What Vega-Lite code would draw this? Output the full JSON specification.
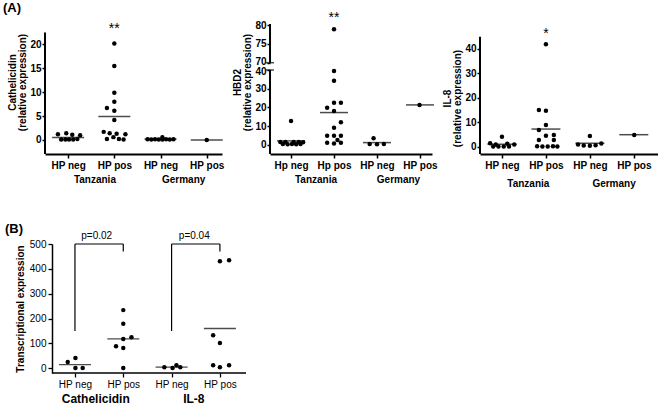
{
  "$schema": "https://vega.github.io/schema/vega-lite/v6.json",
  "padding": {"left": 3, "top": 2, "right": 0, "bottom": 0},
  "config": {
    "font": "Liberation Sans",
    "view": {"stroke": null},
    "axis": {"grid": false, "domainColor": "black", "tickColor": "black", "labelColor": "black", "titleColor": "black", "labelOverlap": false, "tickCount": 30},
    "title": {"color": "black"}
  },
  "datasets": {
    "a1": [
      {"x": -0.22, "y": 1.2}, {"x": -0.04, "y": 1.4}, {"x": 0.09, "y": 1.1}, {"x": 0.26, "y": 1.0},
      {"x": -0.15, "y": 0.1}, {"x": -0.06, "y": 0.1}, {"x": 0.02, "y": 0.1}, {"x": 0.11, "y": 0.1}, {"x": 0.2, "y": 0.2},
      {"x": 1, "y": 20.2}, {"x": 1, "y": 15.5}, {"x": 1, "y": 9.9}, {"x": 1, "y": 8.0}, {"x": 0.84, "y": 6.7}, {"x": 1, "y": 6.1}, {"x": 1, "y": 4.2},
      {"x": 0.77, "y": 1.7}, {"x": 0.9, "y": 1.4}, {"x": 1.05, "y": 1.3}, {"x": 1.24, "y": 1.2}, {"x": 0.84, "y": 0.2}, {"x": 0.98, "y": 0.6}, {"x": 1.1, "y": 0.2}, {"x": 1.2, "y": 0.1},
      {"x": 1.72, "y": 0.15}, {"x": 1.8, "y": 0.1}, {"x": 1.88, "y": 0.15}, {"x": 1.96, "y": 0.1}, {"x": 2.04, "y": 0.6}, {"x": 2.04, "y": 0.1}, {"x": 2.12, "y": 0.15}, {"x": 2.2, "y": 0.1}, {"x": 2.28, "y": 0.15},
      {"x": 3, "y": 0}
    ],
    "a1m": [{"x": 0, "y": 0.5}, {"x": 1, "y": 4.9}, {"x": 2, "y": 0.2}, {"x": 3, "y": 0}],
    "a1ax": [{"y": -2.93, "y2": 22.5}],
    "a1sig": [{"x": 1, "y": 23.3, "t": "**"}],
    "a1grp": [{"x": 0.58, "t": "Tanzania"}, {"x": 2.5, "t": "Germany"}],
    "a2": [
      {"x": 0, "y": 12.7},
      {"x": -0.25, "y": 1.4}, {"x": -0.13, "y": 1.5}, {"x": 0.06, "y": 1.4}, {"x": 0.18, "y": 1.5}, {"x": 0.28, "y": 1.3},
      {"x": -0.19, "y": 0.3}, {"x": -0.08, "y": 0.2}, {"x": 0.02, "y": 0.3}, {"x": 0.12, "y": 0.2}, {"x": 0.22, "y": 0.3},
      {"x": 1, "y": 78.9}, {"x": 1, "y": 39.5}, {"x": 1, "y": 34.3}, {"x": 1, "y": 22.5}, {"x": 1.16, "y": 22.5}, {"x": 0.84, "y": 19.8}, {"x": 1, "y": 18.0}, {"x": 1.16, "y": 12.0}, {"x": 1, "y": 9.1},
      {"x": 0.84, "y": 4.8}, {"x": 1, "y": 4.8}, {"x": 1.16, "y": 4.8}, {"x": 1.08, "y": 2.5}, {"x": 0.84, "y": 1.0}, {"x": 1, "y": 0.6}, {"x": 1.16, "y": 1.0},
      {"x": 1.92, "y": 3.4}, {"x": 1.83, "y": 0.3}, {"x": 2.0, "y": 0.2}, {"x": 2.16, "y": 0.4},
      {"x": 2.99, "y": 21.3}
    ],
    "a2m": [{"x": 0, "y": 2.0}, {"x": 1, "y": 17.2}, {"x": 2, "y": 1.1}, {"x": 3, "y": 21.3}],
    "a2ax": [{"y": -5, "y2": 40}, {"y": 70, "y2": 80.3}],
    "a2cap": [{"y": 40}, {"y": 70}],
    "a2sig": [{"x": 1, "y": 81.9, "t": "**"}],
    "a2grp": [{"x": 0.58, "t": "Tanzania"}, {"x": 2.5, "t": "Germany"}],
    "a3": [
      {"x": 0, "y": 4.1}, {"x": -0.27, "y": 1.4}, {"x": -0.14, "y": 0.9}, {"x": 0.12, "y": 1.2}, {"x": 0.28, "y": 0.9},
      {"x": -0.2, "y": 0.1}, {"x": -0.08, "y": 0.1}, {"x": 0.04, "y": 0.1}, {"x": 0.16, "y": 0.1},
      {"x": 1, "y": 41.8}, {"x": 0.84, "y": 15.0}, {"x": 1, "y": 14.7}, {"x": 1, "y": 8.9}, {"x": 0.84, "y": 6.8}, {"x": 1.18, "y": 4.8}, {"x": 1, "y": 4.5}, {"x": 0.84, "y": 2.7}, {"x": 1.18, "y": 2.7},
      {"x": 0.8, "y": 0.2}, {"x": 0.92, "y": 0.1}, {"x": 1.04, "y": 0.1}, {"x": 1.16, "y": 0.2}, {"x": 1.26, "y": 0.1},
      {"x": 2.0, "y": 4.4}, {"x": 1.73, "y": 0.9}, {"x": 1.86, "y": 0.5}, {"x": 2.0, "y": 0.4}, {"x": 2.13, "y": 0.6}, {"x": 2.26, "y": 1.3},
      {"x": 3.01, "y": 4.8}
    ],
    "a3m": [{"x": 0, "y": 1.0}, {"x": 1, "y": 7.2}, {"x": 2, "y": 1.4}, {"x": 3, "y": 4.9}],
    "a3ax": [{"y": -2.98, "y2": 44.9}],
    "a3sig": [{"x": 1, "y": 45.8, "t": "*"}],
    "a3grp": [{"x": 0.6, "t": "Tanzania"}, {"x": 2.55, "t": "Germany"}],
    "bpts": [
      {"x": -0.15, "y": 25}, {"x": 0.01, "y": 41}, {"x": 0.01, "y": 1}, {"x": 0.16, "y": 1},
      {"x": 1.0, "y": 234}, {"x": 1.0, "y": 179}, {"x": 1.0, "y": 118}, {"x": 1.17, "y": 125}, {"x": 0.85, "y": 89}, {"x": 1.0, "y": 82}, {"x": 1.0, "y": 1},
      {"x": 1.85, "y": 4}, {"x": 2.02, "y": 1}, {"x": 2.1, "y": 12}, {"x": 2.18, "y": 4},
      {"x": 3.0, "y": 431}, {"x": 3.19, "y": 435}, {"x": 2.86, "y": 133}, {"x": 3.0, "y": 102}, {"x": 2.86, "y": 12}, {"x": 3.0, "y": 4}, {"x": 3.19, "y": 12}
    ],
    "bm": [{"x": 0, "y": 15}, {"x": 1, "y": 118}, {"x": 2, "y": 5}, {"x": 3, "y": 160}],
    "bbr": [
      {"x": 0, "x2": 0, "y": 150, "y2": 500}, {"x": 0, "x2": 1, "y": 500, "y2": 500}, {"x": 1, "x2": 1, "y": 470, "y2": 500},
      {"x": 2, "x2": 2, "y": 150, "y2": 500}, {"x": 2, "x2": 3, "y": 500, "y2": 500}, {"x": 3, "x2": 3, "y": 470, "y2": 500}
    ],
    "bp": [{"x": 0.45, "y": 500, "t": "p=0.02"}, {"x": 2.47, "y": 500, "t": "p=0.04"}],
    "bgrp": [{"x": 0.43, "t": "Cathelicidin"}, {"x": 2.46, "t": "IL-8"}],
    "bax": [{"x": -0.476, "x2": 3.54}]
  },
  "bounds": "flush",
  "align": "none",
  "columns": 3,
  "spacing": {"row": 90, "column": 48},
  "concat": [
    {
      "width": 177, "height": 144,
      "title": {"text": "(A)", "anchor": "start", "frame": "group", "fontSize": 13, "fontWeight": "bold", "offset": 0, "dx": -42, "dy": 5},
      "layer": [
        {"data": {"name": "a1"}, "mark": {"type": "circle", "size": 20, "color": "black", "opacity": 1},
          "encoding": {
            "x": {"field": "x", "type": "quantitative", "scale": {"domain": [-0.5, 3.33], "nice": false, "zero": false},
              "axis": {"title": null, "values": [0, 1, 2, 3], "tickCount": 30, "labelExpr": "datum.value % 2 == 0 ? 'HP neg' : 'HP pos'", "domainWidth": 2, "tickWidth": 1.5, "tickSize": 4, "labelPadding": 2, "labelFontSize": 10, "labelFontWeight": "bold", "labelFlush": false, "labelOverlap": false}},
            "y": {"field": "y", "type": "quantitative", "scale": {"domain": [-2.93, 27.2], "nice": false, "zero": false},
              "axis": {"title": ["Cathelicidin", "(relative expression)"], "values": [0, 5, 10, 15, 20], "tickCount": 30, "domain": false, "tickWidth": 1.5, "tickSize": 3, "labelPadding": 1, "labelFontSize": 10, "labelFontWeight": "bold", "labelOverlap": false, "titleFontSize": 10, "titleFontWeight": "bold", "titlePadding": 2, "titleLineHeight": 10}}
          }},
        {"data": {"name": "a1m"}, "mark": {"type": "tick", "orient": "horizontal", "size": 32, "thickness": 1.5, "color": "black"},
          "encoding": {"x": {"field": "x", "type": "quantitative"}, "y": {"field": "y", "type": "quantitative"}}},
        {"data": {"name": "a1ax"}, "mark": {"type": "rule", "strokeWidth": 2, "color": "black"},
          "encoding": {"x": {"datum": -0.5, "type": "quantitative"}, "y": {"field": "y", "type": "quantitative"}, "y2": {"field": "y2"}}},
        {"data": {"name": "a1sig"}, "mark": {"type": "text", "fontSize": 14, "baseline": "middle", "color": "black"},
          "encoding": {"x": {"field": "x", "type": "quantitative"}, "y": {"field": "y", "type": "quantitative"}, "text": {"field": "t"}}},
        {"data": {"name": "a1grp"}, "mark": {"type": "text", "fontSize": 10, "fontWeight": "bold", "baseline": "middle", "dy": 26, "color": "black"},
          "encoding": {"x": {"field": "x", "type": "quantitative"}, "y": {"datum": -2.93, "type": "quantitative"}, "text": {"field": "t"}}}
      ]
    },
    {
      "width": 162, "height": 144,
      "layer": [
        {"data": {"name": "a2"}, "mark": {"type": "circle", "size": 20, "color": "black", "opacity": 1},
          "encoding": {
            "x": {"field": "x", "type": "quantitative", "scale": {"domain": [-0.49, 3.28], "nice": false, "zero": false},
              "axis": {"title": null, "values": [0, 1, 2, 3], "tickCount": 30, "labelExpr": "datum.value == 0 ? 'Hp neg' : datum.value == 1 ? 'Hp pos' : datum.value == 2 ? 'HP neg' : 'HP pos'", "domainWidth": 2, "tickWidth": 1.5, "tickSize": 4, "labelPadding": 2, "labelFontSize": 10, "labelFontWeight": "bold", "labelFlush": false, "labelOverlap": false}},
            "y": {"field": "y", "type": "quantitative", "scale": {"domain": [-5, 40, 70, 84], "range": [144, 60, 52.7, 0], "nice": false, "zero": false},
              "axis": {"title": ["HBD2", "(relative expression)"], "values": [0, 10, 20, 30, 40, 70, 75, 80], "tickCount": 30, "domain": false, "tickWidth": 1.5, "tickSize": 3, "labelPadding": 1, "labelFontSize": 10, "labelFontWeight": "bold", "labelOverlap": false, "labelOffset": {"expr": "datum.value == 70 ? -1.5 : (datum.value == 40 ? 1.5 : 0)"}, "titleFontSize": 10, "titleFontWeight": "bold", "titlePadding": 2, "titleLineHeight": 10}}
          }},
        {"data": {"name": "a2m"}, "mark": {"type": "tick", "orient": "horizontal", "size": 28, "thickness": 1.5, "color": "black"},
          "encoding": {"x": {"field": "x", "type": "quantitative"}, "y": {"field": "y", "type": "quantitative"}}},
        {"data": {"name": "a2ax"}, "mark": {"type": "rule", "strokeWidth": 2, "color": "black"},
          "encoding": {"x": {"datum": -0.49, "type": "quantitative"}, "y": {"field": "y", "type": "quantitative"}, "y2": {"field": "y2"}}},
        {"data": {"name": "a2cap"}, "mark": {"type": "tick", "orient": "horizontal", "size": 8, "thickness": 1.5, "color": "black"},
          "encoding": {"x": {"datum": -0.49, "type": "quantitative"}, "y": {"field": "y", "type": "quantitative"}}},
        {"data": {"name": "a2sig"}, "mark": {"type": "text", "fontSize": 14, "baseline": "middle", "color": "black"},
          "encoding": {"x": {"field": "x", "type": "quantitative"}, "y": {"field": "y", "type": "quantitative"}, "text": {"field": "t"}}},
        {"data": {"name": "a2grp"}, "mark": {"type": "text", "fontSize": 10, "fontWeight": "bold", "baseline": "middle", "dy": 26, "color": "black"},
          "encoding": {"x": {"field": "x", "type": "quantitative"}, "y": {"datum": -5, "type": "quantitative"}, "text": {"field": "t"}}}
      ]
    },
    {
      "width": 178, "height": 144,
      "layer": [
        {"data": {"name": "a3"}, "mark": {"type": "circle", "size": 20, "color": "black", "opacity": 1},
          "encoding": {
            "x": {"field": "x", "type": "quantitative", "scale": {"domain": [-0.5, 3.55], "nice": false, "zero": false},
              "axis": {"title": null, "values": [0, 1, 2, 3], "tickCount": 30, "labelExpr": "datum.value % 2 == 0 ? 'HP neg' : 'HP pos'", "domainWidth": 2, "tickWidth": 1.5, "tickSize": 4, "labelPadding": 2, "labelFontSize": 10, "labelFontWeight": "bold", "labelFlush": false, "labelOverlap": false}},
            "y": {"field": "y", "type": "quantitative", "scale": {"domain": [-2.98, 55.8], "nice": false, "zero": false},
              "axis": {"title": ["IL-8", "(relative expression)"], "values": [0, 10, 20, 30, 40], "tickCount": 30, "domain": false, "tickWidth": 1.5, "tickSize": 3, "labelPadding": 1, "labelFontSize": 10, "labelFontWeight": "bold", "labelOverlap": false, "titleFontSize": 10, "titleFontWeight": "bold", "titlePadding": 2, "titleLineHeight": 10, "titleY": 88}}
          }},
        {"data": {"name": "a3m"}, "mark": {"type": "tick", "orient": "horizontal", "size": 29, "thickness": 1.5, "color": "black"},
          "encoding": {"x": {"field": "x", "type": "quantitative"}, "y": {"field": "y", "type": "quantitative"}}},
        {"data": {"name": "a3ax"}, "mark": {"type": "rule", "strokeWidth": 2, "color": "black"},
          "encoding": {"x": {"datum": -0.5, "type": "quantitative"}, "y": {"field": "y", "type": "quantitative"}, "y2": {"field": "y2"}}},
        {"data": {"name": "a3sig"}, "mark": {"type": "text", "fontSize": 14, "baseline": "middle", "color": "black"},
          "encoding": {"x": {"field": "x", "type": "quantitative"}, "y": {"field": "y", "type": "quantitative"}, "text": {"field": "t"}}},
        {"data": {"name": "a3grp"}, "mark": {"type": "text", "fontSize": 10, "fontWeight": "bold", "baseline": "middle", "dy": 30, "color": "black"},
          "encoding": {"x": {"field": "x", "type": "quantitative"}, "y": {"datum": -2.98, "type": "quantitative"}, "text": {"field": "t"}}}
      ]
    },
    {
      "width": 177, "height": 129,
      "title": {"text": "(B)", "anchor": "start", "frame": "group", "fontSize": 13, "fontWeight": "bold", "offset": 0, "dx": -40, "dy": 5},
      "layer": [
        {"data": {"name": "bpts"}, "mark": {"type": "circle", "size": 20, "color": "black", "opacity": 1},
          "encoding": {
            "x": {"field": "x", "type": "quantitative", "scale": {"domain": [-0.62, 3.54], "range": [0, 201], "nice": false, "zero": false},
              "axis": {"title": null, "values": [0, 1, 2, 3], "tickCount": 30, "labelExpr": "datum.value % 2 == 0 ? 'HP neg' : 'HP pos'", "domain": false, "tickWidth": 1.3, "tickSize": 4, "labelPadding": 2, "labelFontSize": 10, "labelFlush": false, "labelOverlap": false}},
            "y": {"field": "y", "type": "quantitative", "scale": {"domain": [-19, 500], "nice": false, "zero": false},
              "axis": {"title": "Transcriptional expression", "values": [0, 100, 200, 300, 400, 500], "tickCount": 30, "offset": -7, "domainWidth": 1.5, "tickWidth": 1.3, "tickSize": 4, "labelPadding": 2, "labelFontSize": 10, "labelOverlap": false, "titleFontSize": 10, "titleFontWeight": "bold", "titlePadding": 4}}
          }},
        {"data": {"name": "bm"}, "mark": {"type": "tick", "orient": "horizontal", "size": 32, "thickness": 1.3, "color": "black"},
          "encoding": {"x": {"field": "x", "type": "quantitative"}, "y": {"field": "y", "type": "quantitative"}}},
        {"data": {"name": "bax"}, "mark": {"type": "rule", "strokeWidth": 1.5, "color": "black"},
          "encoding": {"x": {"field": "x", "type": "quantitative"}, "x2": {"field": "x2"}, "y": {"datum": -19, "type": "quantitative"}}},
        {"data": {"name": "bbr"}, "mark": {"type": "rule", "strokeWidth": 1.2, "color": "black"},
          "encoding": {"x": {"field": "x", "type": "quantitative"}, "x2": {"field": "x2"}, "y": {"field": "y", "type": "quantitative"}, "y2": {"field": "y2"}}},
        {"data": {"name": "bp"}, "mark": {"type": "text", "fontSize": 10, "baseline": "middle", "dy": -8, "color": "black"},
          "encoding": {"x": {"field": "x", "type": "quantitative"}, "y": {"field": "y", "type": "quantitative"}, "text": {"field": "t"}}},
        {"data": {"name": "bgrp"}, "mark": {"type": "text", "fontSize": 12, "fontWeight": "bold", "baseline": "middle", "dy": 26, "color": "black"},
          "encoding": {"x": {"field": "x", "type": "quantitative"}, "y": {"datum": -19, "type": "quantitative"}, "text": {"field": "t"}}}
      ]
    }
  ]
}
